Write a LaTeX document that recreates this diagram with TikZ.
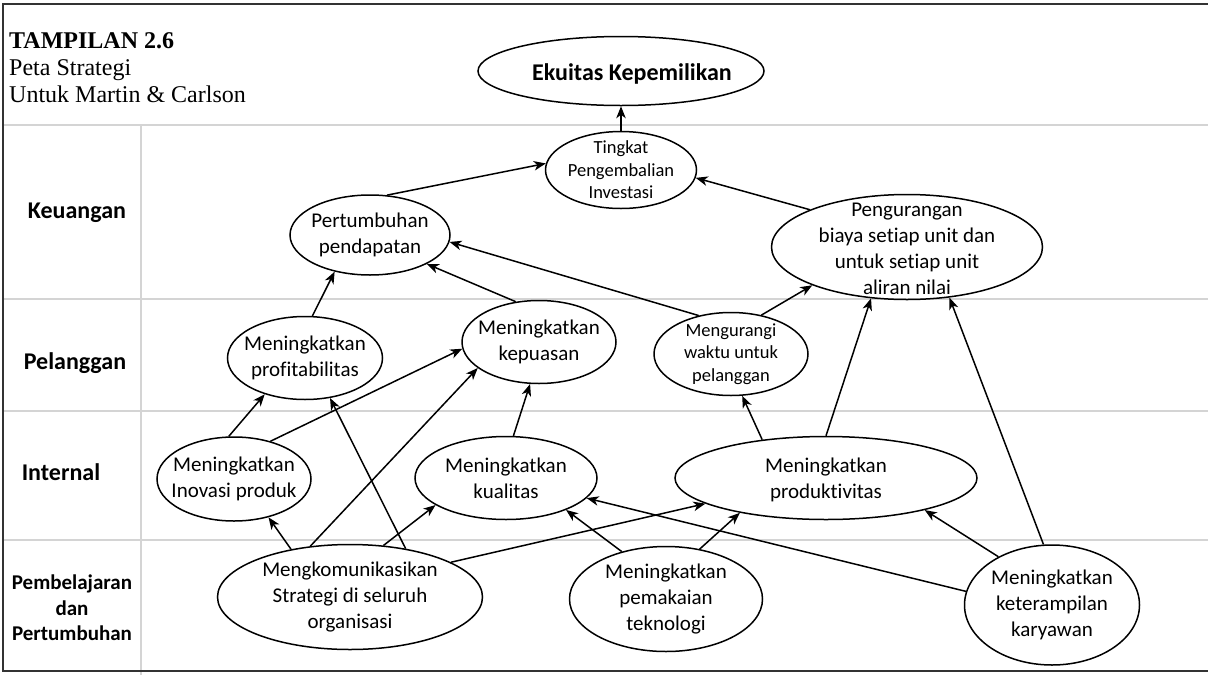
\documentclass[tikz,border=0pt]{standalone}
\usepackage{fontspec}
\setmainfont{Carlito}[RawFeature=-liga, RawFeature=-dlig, RawFeature=-clig, RawFeature=-calt, RawFeature=-hlig]
\newfontfamily\titlefont{Liberation Serif}
\usetikzlibrary{shapes.geometric,arrows.meta}
\begin{document}
\begin{tikzpicture}[x=1pt,y=-1pt,
  ell/.style={draw, ellipse, line width=1.5pt, inner sep=0pt},
  arr/.style={line width=1.5pt, -{Stealth[length=12pt,width=9.5pt,inset=3.5pt]}},
  gridline/.style={draw=black!17, line width=1.8pt},
  framel/.style={draw=black!80, line width=1.3pt},
  sec/.style={font=\fontsize{24}{28}\selectfont\bfseries, align=center},
  secsmall/.style={font=\fontsize{21}{25.5}\selectfont\bfseries, align=center},
  txt/.style={font=\fontsize{21}{25.8}\selectfont, align=center},
  smalltxt/.style={font=\fontsize{18.5}{22.6}\selectfont, align=center},
  bigbold/.style={font=\fontsize{24}{28}\selectfont\bfseries, align=center},
  ttl/.style={anchor=base west, inner sep=0pt, font=\titlefont\fontsize{24}{27}\selectfont},
]
\useasboundingbox (0,0) rectangle (1208,675);
% grid lines
\coordinate (gl0) at (3,125); \coordinate (gr0) at (1208,125);
\coordinate (gl1) at (3,299); \coordinate (gr1) at (1208,299);
\coordinate (gl2) at (3,411); \coordinate (gr2) at (1208,411);
\coordinate (gl3) at (3,540); \coordinate (gr3) at (1208,540);
\coordinate (vt) at (141,125); \coordinate (vb) at (141,675);
\draw[gridline] (gl0) -- (gr0);
\draw[gridline] (gl1) -- (gr1);
\draw[gridline] (gl2) -- (gr2);
\draw[gridline] (gl3) -- (gr3);
\draw[gridline] (vt) -- (vb);
% frame
\coordinate (ftr) at (1208,4); \coordinate (ftl) at (3,4);
\coordinate (fbl) at (3,671); \coordinate (fbr) at (1208,671);
\draw[framel] (ftr) -- (ftl) -- (fbl) -- (fbr);

% title
\node[ttl, font=\titlefont\fontsize{24}{27}\selectfont\bfseries] (t1) at (9,48) {TAMPILAN 2.6};
\node[ttl] (t2) at (9,75) {Peta Strategi};
\node[ttl] (t3) at (9,102) {Untuk Martin \& Carlson};

% section labels
\node[sec] (keu) at (77,213) {Keuangan};
\node[sec] (pel) at (75,363) {Pelanggan};
\node[sec] (intl) at (61,472) {Internal};
\node[secsmall] (pem) at (72,608) {Pembelajaran\\dan\\Pertumbuhan};

% ellipses
\node[ell, minimum width=286pt, minimum height=69pt,
  label={[bigbold, xshift=11pt, yshift=-3pt]center:{Ekuitas Kepemilikan}}] (ekuitas) at (621,71) {};
\node[ell, minimum width=151pt, minimum height=77pt,
  label={[smalltxt]center:{Tingkat\\Pengembalian\\Investasi}}] (ting) at (621,170) {};
\node[ell, minimum width=160pt, minimum height=80pt,
  label={[txt]center:{Pertumbuhan\\pendapatan}}] (pert) at (370,235) {};
\node[ell, minimum width=271pt, minimum height=105pt,
  label={[txt, yshift=-2pt]center:{Pengurangan\\biaya setiap unit dan\\untuk setiap unit\\aliran nilai}}] (peng) at (907,247) {};
\node[ell, minimum width=155pt, minimum height=83pt,
  label={[txt]center:{Meningkatkan\\profitabilitas}}] (prof) at (305,358) {};
\node[ell, minimum width=154pt, minimum height=83pt,
  label={[txt]center:{Meningkatkan\\kepuasan}}] (kep) at (539,342) {};
\node[ell, minimum width=154pt, minimum height=83pt,
  label={[smalltxt]center:{Mengurangi\\waktu untuk\\pelanggan}}] (meng) at (731,354) {};
\node[ell, minimum width=154pt, minimum height=84pt,
  label={[txt]center:{Meningkatkan\\Inovasi produk}}] (inov) at (234,479) {};
\node[ell, minimum width=182pt, minimum height=83pt,
  label={[txt]center:{Meningkatkan\\kualitas}}] (kual) at (506,478) {};
\node[ell, minimum width=302pt, minimum height=83pt,
  label={[txt, yshift=-2pt]center:{Meningkatkan\\produktivitas}}] (prod) at (826,478) {};
\node[ell, minimum width=265pt, minimum height=105pt,
  label={[txt]center:{Mengkomunikasikan\\Strategi di seluruh\\organisasi}}] (kom) at (350,597) {};
\node[ell, minimum width=193pt, minimum height=105pt,
  label={[txt]center:{Meningkatkan\\pemakaian\\teknologi}}] (tek) at (666,599) {};
\node[ell, minimum width=175pt, minimum height=120pt,
  label={[txt]center:{Meningkatkan\\keterampilan\\karyawan}}] (ket) at (1052,605) {};

% arrows
\draw[arr] (ting.north) -- (ekuitas.south);
\draw[arr] (pert.67) -- (ting.175);
\draw[arr] (peng.159) -- (ting.354);
\draw[arr] (prof.80) -- (pert.226);
\draw[arr] (kep.120) -- (pert.333);
\draw[arr] (meng.130) -- (pert.355);
\draw[arr] (meng.52) -- (peng.202);
\draw[arr] (inov.97) -- (prof.222);
\draw[arr] (inov.46) -- (kep.185);
\draw[arr] (kom.141) -- (inov.312);
\draw[arr] (kom.128) -- (kep.203);
\draw[arr] (kom.41) -- (prof.302);
\draw[arr] (kom.57) -- (kual.201);
\draw[arr] (kom.19.5) -- (prod.192);
\draw[arr] (tek.133) -- (kual.332);
\draw[arr] (tek.56) -- (prod.202);
\draw[arr] (ket.171.5) -- (kual.346);
\draw[arr] (ket.138) -- (prod.342);
\draw[arr] (ket.98.5) -- (peng.310);
\draw[arr] (prod.90) -- (peng.235);
\draw[arr] (prod.149) -- (meng.285);
\draw[arr] (kual.80) -- (kep.258);
\end{tikzpicture}
\end{document}
